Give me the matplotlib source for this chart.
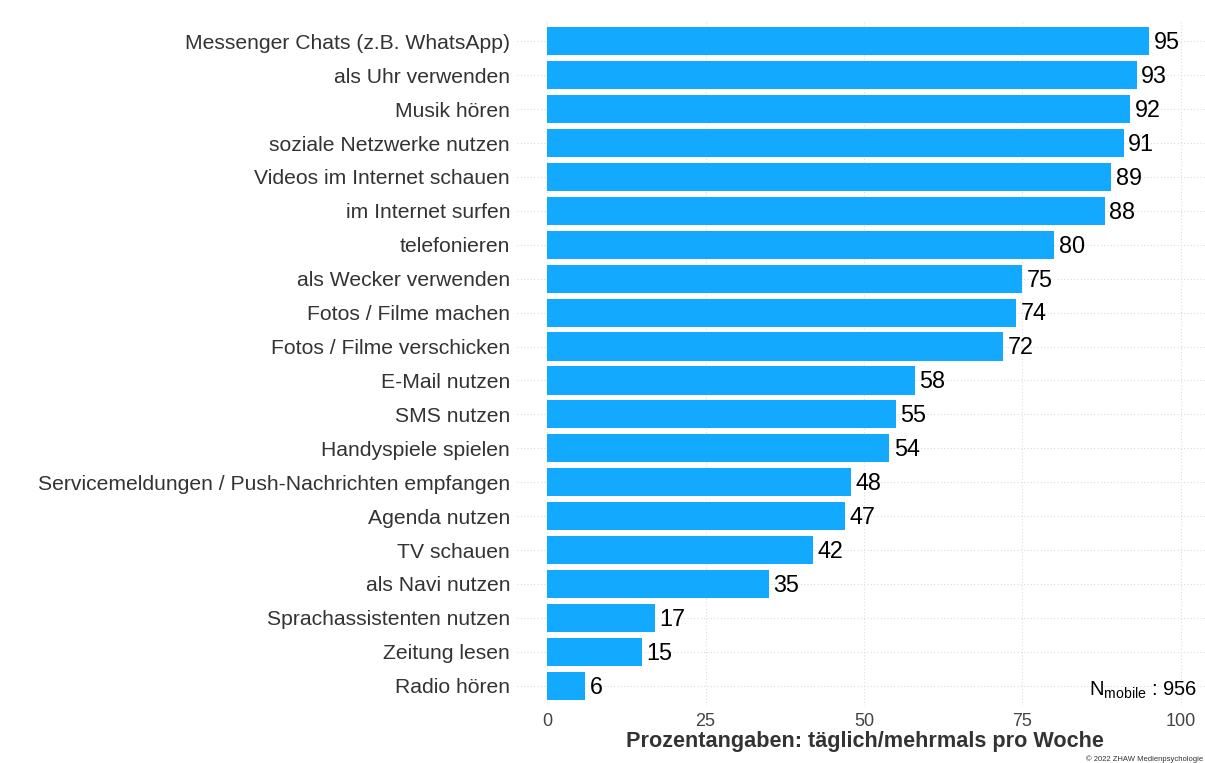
import matplotlib
matplotlib.use("Agg")
import matplotlib.pyplot as plt

categories = [
    "Messenger Chats (z.B. WhatsApp)", "als Uhr verwenden", "Musik hören",
    "soziale Netzwerke nutzen", "Videos im Internet schauen", "im Internet surfen",
    "telefonieren", "als Wecker verwenden", "Fotos / Filme machen",
    "Fotos / Filme verschicken", "E-Mail nutzen", "SMS nutzen",
    "Handyspiele spielen", "Servicemeldungen / Push-Nachrichten empfangen",
    "Agenda nutzen", "TV schauen", "als Navi nutzen",
    "Sprachassistenten nutzen", "Zeitung lesen", "Radio hören",
]
values = [95, 93, 92, 91, 89, 88, 80, 75, 74, 72, 58, 55, 54, 48, 47, 42, 35, 17, 15, 6]
xticks = [0, 25, 50, 75, 100]

plt.rcParams['font.family'] = ['Liberation Sans', 'DejaVu Sans']
plt.rcParams['mathtext.fontset'] = 'custom'
plt.rcParams['mathtext.rm'] = 'Liberation Sans'
plt.rcParams['mathtext.it'] = 'Liberation Sans:italic'
plt.rcParams['mathtext.bf'] = 'Liberation Sans:bold'

W, H = 1205, 763
fig = plt.figure(figsize=(W / 100, H / 100), dpi=100)
left_px, right_px, top_px, bot_px = 517, 1211, 21, 706
ax = fig.add_axes([left_px / W, 1 - bot_px / H, (right_px - left_px) / W, (bot_px - top_px) / H])

ypos = list(range(len(categories)))
ax.barh(ypos, values, height=0.83, color='#13A9FE', zorder=2)
for y, v in zip(ypos, values):
    ax.text(v + 0.7, y + 0.04, f"{v}", va='center', ha='left', fontsize=16.8,
            color='black', zorder=3)

ax.set_xlim(-4.75, 104.75)
ax.set_ylim(len(categories) - 0.4, -0.6)
ax.set_yticks(ypos)
ax.set_yticklabels(categories, fontsize=15.2, color='#333333')
ax.set_xticks(xticks)
ax.set_xticklabels([str(t) for t in xticks], fontsize=13, color='#444444')
ax.tick_params(length=0)
ax.tick_params(axis='y', pad=5)
ax.tick_params(axis='x', pad=5)
for s in ax.spines.values():
    s.set_visible(False)
ax.grid(True, color='#DDDDDD', linestyle=(0, (1, 2)), linewidth=0.8, zorder=0)
ax.set_axisbelow(True)

fig.text(865 / W, 1 - 741 / H, "Prozentangaben: täglich/mehrmals pro Woche",
         ha='center', va='center', fontsize=15.6, fontweight='bold', color='#333333')
fig.text(1197 / W, 1 - 690 / H, r"N$_{\mathrm{mobile}}$ : 956",
         ha='right', va='center', fontsize=14.5, color='black')
fig.text(1203 / W, 1 - 759 / H, "© 2022 ZHAW Medienpsychologie",
         ha='right', va='center', fontsize=5.5, color='#333333')

fig.savefig("out.png", dpi=100)
